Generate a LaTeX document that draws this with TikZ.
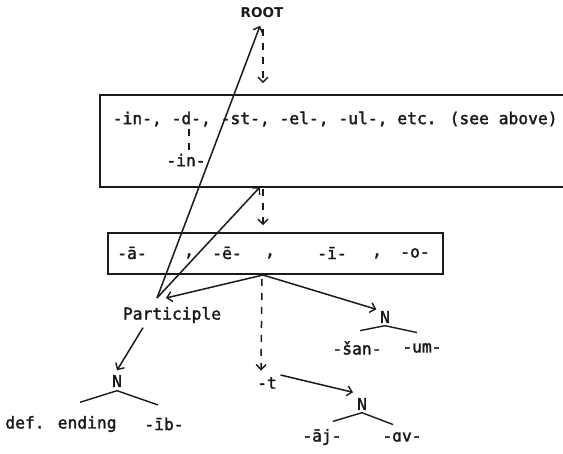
\documentclass[tikz,border=0pt]{standalone}
\usepackage{fontspec}
\setmainfont{DejaVu Sans Mono}[FakeBold=2]
\newfontfamily\rootfont{DejaVu Sans}
\usepackage{tikz}
\usetikzlibrary{arrows.meta, positioning, calc}
\definecolor{ink}{HTML}{1A1A1A}

\begin{document}
\begin{tikzpicture}[x=1pt, y=-1pt, line width=1.5pt, draw=ink, text=ink,
    lbl/.style={inner sep=0pt, font=\fontsize{16.3}{18}\selectfont},
    frame/.style={draw=ink, rectangle, line width=1.6pt, inner sep=0pt},
    tip/.style={-{Straight Barb[length=5pt, width=10pt, line width=1.4pt]}},
    dashline/.style={dash pattern=on 7pt off 7pt},
    branch/.style={line width=1.4pt}]
    \useasboundingbox (0,0) rectangle (563,454);
    \fill[white] (0,0) rectangle (563,454);

    \node[inner sep=0pt, font=\rootfont\bfseries\fontsize{13.5}{15}\selectfont] (root) at (262,13) {ROOT};

    \node[frame, minimum width=467pt, minimum height=92pt] (stems) at (333.5,141) {};
    \node[lbl, anchor=west] (stemlist) at (112,119) {-in-, -d-, -st-, -el-, -ul-, etc. (see above)};
    \node[lbl] (inner) at (186,160) {-in-};
    \coordinate (dpos) at (189,119);

    \node[frame, minimum width=335pt, minimum height=41pt] (vowels) at (275.5,253.5) {};
    \node[lbl] (va) at (132,253) {-ā-};
    \node[lbl] (c1) at (189,256) {,};
    \node[lbl] (ve) at (227,253) {-ē-};
    \node[lbl] (c2) at (270,256) {,};
    \node[lbl] (vi) at (332,253) {-ī-};
    \node[lbl] (c3) at (377,256) {,};
    \node[lbl] (vo) at (415,253) {-o-};

    \node[lbl] (part) at (172,315) {Participle};
    \coordinate (apex) at (157,298);
    \coordinate (s1) at (260,187);
    \coordinate (s2) at (263,275);

    \node[lbl] (nleft) at (117,381) {N};
    \node[lbl] (defend) at (61,424) {def. ending};
    \node[lbl] (ib) at (164,424) {-īb-};

    \node[lbl] (nmid) at (385,317) {N};
    \node[lbl] (san) at (357,348) {-šan-};
    \node[lbl] (um) at (422,348) {-um-};

    \node[lbl] (tt) at (267,383) {-t};
    \node[lbl] (nlow) at (362,404) {N};
    \node[lbl] (aj) at (322,437) {-āj-};
    \node[lbl] (av) at (402,437) {-ɑv-};

    \draw[dashline, tip] (root.south) ++(1,10) -- ($(root.south |- stems.north)+(1,-11)$);
    \draw[dashline] ($(dpos)+(0,10)$) -- ($(inner.north)+(3,-2)$);
    \draw[tip] (apex) -- ($(root.south)+(-2,7)$);
    \draw[tip] (apex) -- (s1);
    \draw[dashline, tip] ($(s1)+(3,2)$) -- ($(vowels.north -| s1)+(3,-7)$);
    \draw[tip] (s2) -- ($(apex)+(9,0)$);
    \draw[tip] (s2) -- ($(nmid.north west)+(-3,-1)$);
    \draw[dashline, tip] ($(s2)+(-1,4)$) -- ($(tt.north)+(-6,-6)$);
    \draw[tip] ($(part.south)+(-29,4)$) -- ($(nleft.north)+(0,-4)$);
    \draw[tip] ($(tt.east)+(3,-8)$) -- ($(nlow.north)+(-9,-5)$);

    \draw[branch] (nleft.south) ++(0,3) coordinate (bl) -- ($(defend.north)+(19,-13)$);
    \draw[branch] (bl) -- ($(ib.north)+(-6,-12)$);
    \draw[branch] (nmid.south) ++(0,2) coordinate (bm) -- ($(san.north)+(3,-10)$);
    \draw[branch] (bm) -- ($(um.north)+(-5,-10)$);
    \draw[branch] (nlow.south) ++(0,2) coordinate (bn) -- ($(aj.north)+(11,-7)$);
    \draw[branch] (bn) -- ($(av.north)+(-9,-7)$);
\end{tikzpicture}
\end{document}
